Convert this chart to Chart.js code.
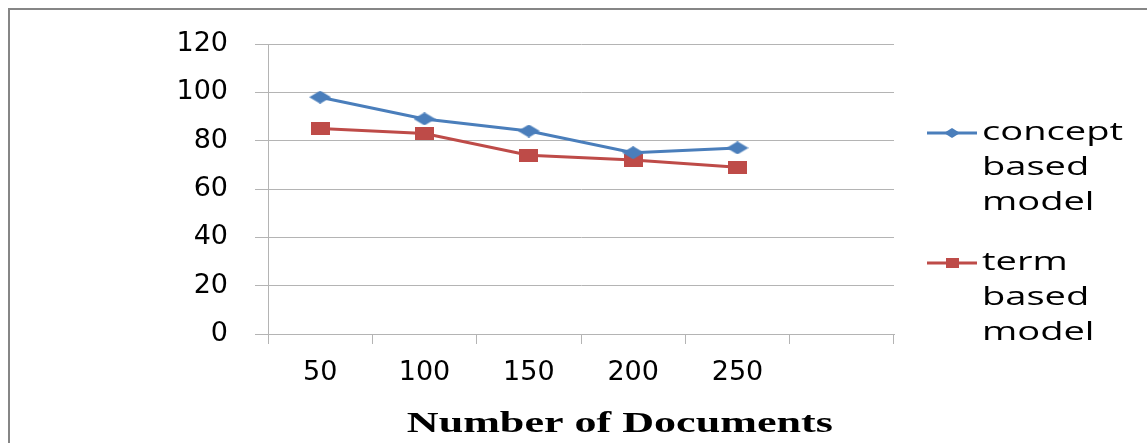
<!DOCTYPE html>
<html><head><meta charset="utf-8">
<script src="https://cdn.jsdelivr.net/npm/chart.js@4"></script>
<style>html,body{margin:0;padding:0;background:#fff;}canvas{display:block;}</style>
</head><body>
<canvas id="c" width="1147" height="443"></canvas>
<script>
// ---- data ----
const categories = ['50', '100', '150', '200', '250', ''];
const conceptValues = [98, 89, 84, 75, 77];
const termValues = [85, 83, 74, 72, 69];
const seriesNames = ['concept based model', 'term based model'];
const legendLines = [['concept', 'based', 'model'], ['term', 'based', 'model']];
const yMin = 0, yMax = 120, yStep = 20;
const xTitle = 'Number of Documents';

// ---- styles ----
const BLUE = '#4a7ebb';
const RED = '#be4b48';
const GRID = '#b4b4b4';

function diamondImg(w, h, color) {
  const c = document.createElement('canvas'); c.width = w; c.height = h;
  const g = c.getContext('2d'); g.fillStyle = color;
  g.beginPath(); g.moveTo(w / 2, 0); g.lineTo(w, h / 2); g.lineTo(w / 2, h); g.lineTo(0, h / 2); g.closePath(); g.fill();
  return c;
}
function rectImg(w, h, color) {
  const c = document.createElement('canvas'); c.width = w; c.height = h;
  const g = c.getContext('2d'); g.fillStyle = color; g.fillRect(0, 0, w, h);
  return c;
}
const markerBig = [diamondImg(22, 13, BLUE), rectImg(19, 13, RED)];
const markerSmall = [diamondImg(16, 10, BLUE), rectImg(13, 10, RED)];

function stretchedText(ctx, text, x, y, sx) {
  ctx.save(); ctx.translate(x, y); ctx.scale(sx, 1); ctx.fillText(text, 0, 0); ctx.restore();
}

const framePlugin = {
  id: 'frame',
  beforeDraw(chart) {
    const ctx = chart.ctx;
    ctx.save();
    ctx.fillStyle = '#fff'; ctx.fillRect(0, 0, chart.width, chart.height);
    ctx.strokeStyle = '#868686'; ctx.lineWidth = 2;
    ctx.strokeRect(9, 9, chart.width + 50, chart.height + 50);
    ctx.restore();
  }
};

const legendPlugin = {
  id: 'customLegend',
  afterDraw(chart) {
    const ctx = chart.ctx;
    const a = chart.chartArea;
    const colors = [BLUE, RED];
    const tops = [133, 263];
    const lineGap = 35;
    ctx.save();
    ctx.font = '26px "Open Sans"';
    ctx.fillStyle = '#000';
    ctx.textBaseline = 'middle';
    ctx.textAlign = 'left';
    const sx = 141 / ctx.measureText(legendLines[0][0]).width;
    chart.data.datasets.forEach((ds, i) => {
      const y = tops[i];
      const x0 = a.right + 33, x1 = a.right + 83;
      ctx.strokeStyle = colors[i]; ctx.lineWidth = 3;
      ctx.beginPath(); ctx.moveTo(x0, y); ctx.lineTo(x1, y); ctx.stroke();
      const m = markerSmall[i];
      ctx.drawImage(m, (x0 + x1) / 2 - m.width / 2, y - m.height / 2);
      legendLines[i].forEach((t, k) => stretchedText(ctx, t, a.right + 88, y + k * lineGap, sx));
    });
    ctx.restore();
  }
};

const titlePlugin = {
  id: 'bottomTitle',
  afterDraw(chart) {
    const ctx = chart.ctx;
    const a = chart.chartArea;
    ctx.save();
    ctx.font = 'bold 30px "Liberation Serif"';
    ctx.fillStyle = '#000';
    ctx.textBaseline = 'alphabetic';
    const w = ctx.measureText(xTitle).width;
    const sx = 426 / w;
    const cx = a.left + (a.right - a.left) * 0.562;
    stretchedText(ctx, xTitle, cx - 426 / 2, 432, sx);
    ctx.restore();
  }
};

new Chart(document.getElementById('c'), {
  type: 'line',
  data: {
    labels: categories,
    datasets: [
      { label: seriesNames[0], data: conceptValues, borderColor: BLUE, backgroundColor: BLUE,
        borderWidth: 3, tension: 0, pointStyle: markerBig[0], pointRadius: 8, pointHoverRadius: 8 },
      { label: seriesNames[1], data: termValues, borderColor: RED, backgroundColor: RED,
        borderWidth: 3, tension: 0, pointStyle: markerBig[1], pointRadius: 8, pointHoverRadius: 8 }
    ]
  },
  options: {
    responsive: false,
    animation: false,
    devicePixelRatio: 1,
    layout: { padding: { left: 0, top: 44, right: 253, bottom: 0 } },
    plugins: { legend: { display: false }, title: { display: false }, tooltip: { enabled: false } },
    scales: {
      x: {
        offset: true,
        grid: { offset: true, drawOnChartArea: false, drawTicks: true, tickLength: 10, color: GRID, lineWidth: 1 },
        border: { display: true, color: GRID, width: 1 },
        ticks: { color: '#000', font: { family: '"DejaVu Sans"', size: 27 }, padding: 13, maxRotation: 0, autoSkip: false },
        afterFit(s) { s.height = 109; }
      },
      y: {
        min: yMin, max: yMax,
        grid: { color: GRID, lineWidth: 1, drawTicks: true, tickLength: 13 },
        border: { display: true, color: GRID, width: 1 },
        ticks: { stepSize: yStep, color: '#000', font: { family: '"DejaVu Sans"', size: 27 }, padding: 27 },
        afterFit(s) { s.width = 268; }
      }
    }
  },
  plugins: [framePlugin, legendPlugin, titlePlugin]
});
</script>
</body></html>
